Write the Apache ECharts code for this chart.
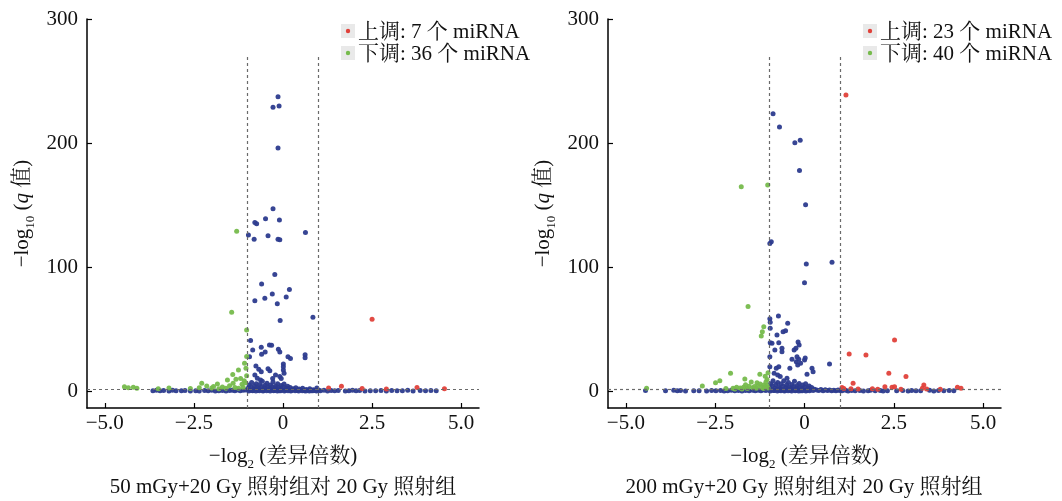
<!DOCTYPE html>
<html><head><meta charset="utf-8">
<script src="https://cdn.jsdelivr.net/npm/echarts@6/dist/echarts.min.js"></script>
<style>html,body{margin:0;padding:0;background:#fff}#c{width:1062px;height:501px}</style>
</head><body><div id="c"></div>
<script>
// ---------- DATA ----------
const xTicks = [-5, -2.5, 0, 2.5, 5];
const yTicks = [0, 100, 200, 300];
const panelTitles = ['50 mGy+20 Gy 照射组对 20 Gy 照射组', '200 mGy+20 Gy 照射组对 20 Gy 照射组'];
const legendUp = ['上调: 7 个 miRNA', '上调: 23 个 miRNA'];
const legendDown = ['下调: 36 个 miRNA', '下调: 40 个 miRNA'];
const foldCut = [-1, 1];
const qCut = 1.3;

const leftUp = [[1.64,4.0],[2.50,58.0],[3.76,3.0],[4.53,2.0],[2.22,2.2],[1.28,2.6],[2.90,1.9]];
const leftDown = [[-1.30,129],[-1.44,63.6],[-1.02,49.4],[-1.04,18.5],[-1.25,17.2],[-1.41,13.4],[-1.32,9.7],[-1.19,10.2],[-1.09,8.5],[-1.56,9.1],[-1.84,5.9],[-2.28,6.4],[-2.14,4.3],[-4.45,3.7],[-4.34,2.8],[-4.20,3.2],[-4.10,2.4],[-3.20,2.6],[-2.35,2.9],[-1.70,3.5],[-1.60,2.4],[-1.50,4.4],[-1.15,5.6],[-1.05,6.8],[-1.12,3.2],[-1.35,3.0],[-2.00,2.6],[-1.95,3.8],[-1.02,12.5],[-1.08,22.5],[-1.02,28],[-2.60,2.2],[-3.50,2.0],[-1.80,2.1],[-1.25,2.5],[-1.40,6.5]];
const leftNs = [[-0.14,237.3],[-0.28,228.8],[-0.11,229.8],[-0.14,196],[-0.28,147],[-0.49,139],[-0.10,138],[-0.79,136],[-0.74,135],[0.63,128],[-0.97,126],[-0.81,122.5],[-0.42,125.4],[-0.14,122.5],[-0.09,122],
[-0.23,94],[-0.60,86.4],[0.18,82],[-0.30,78.4],[-0.51,75],[0.09,76],[-0.79,73],[-0.16,70.6],[-0.08,57],[0.84,59.6],
[-0.91,40.8],[-0.85,33.3],[-0.61,35.4],[-0.38,37.3],[-0.32,37],[-0.50,31.7],[-0.60,29.8],[-0.13,33.8],[-0.09,31.7],[0.14,27.9],[0.21,26.3],[0.62,29.5],[0.62,27],[-0.94,27.9],[-0.76,20.4],[-0.68,17.7],[-0.61,15.8],[-0.42,18.2],[-0.37,16.6],[0.01,22],[0.01,19.8],[0.01,17.2],[0.03,14.5],[-0.21,13.1],[-0.09,11.8],[-0.79,13.1],[-0.72,10.5],[-0.29,10.2],[-0.05,10.2],[-0.63,9.1],
[-3.65,0.5],[-3.55,0.8],[-3.45,0.4],[-3.35,0.6],[-3.20,0.3],[-3.10,0.9],[-3.00,0.5],[-2.85,0.4],[-2.75,0.7],[-2.60,0.3],[-2.45,0.5],[-2.35,0.2],[-2.20,0.6],[-2.10,0.4],[-2.00,0.8],[-1.90,0.3],[-1.80,0.5],[-1.70,0.7],[-1.60,0.2],[-1.50,0.6],[-1.42,0.9],[-1.35,0.4],[-1.28,1.0],[-1.20,0.5],[-1.12,0.8],[-1.05,1.1],
[-0.98,2.5],[-0.95,5],[-0.92,1],[-0.90,3.5],[-0.88,7],[-0.85,0.5],[-0.82,2],[-0.80,4.5],[-0.78,1.5],[-0.75,6],[-0.72,3],[-0.70,0.8],[-0.68,2.2],[-0.65,5.5],[-0.62,1.2],[-0.60,3.8],[-0.58,8],[-0.55,0.6],[-0.52,2.8],[-0.50,4.8],[-0.48,1.6],[-0.45,6.5],[-0.42,3.2],[-0.40,0.9],[-0.38,2],[-0.35,5],[-0.32,1.4],[-0.30,3.6],[-0.28,7.5],[-0.25,0.7],[-0.22,2.6],[-0.20,4.2],[-0.18,1.1],[-0.15,6],[-0.12,3],[-0.10,0.5],[-0.08,2.2],[-0.05,4.6],[-0.02,1.3],[0.00,3.4],[0.03,5.8],[0.06,0.8],[0.10,2.4],[0.13,4],[0.16,1.5],[0.20,3],[0.24,0.6],[0.28,2],[0.32,1.2],[0.36,2.8],[0.40,0.7],[0.45,1.8],[0.50,1],[0.55,2.5],[0.60,0.5],[0.65,1.5],[0.70,0.8],[0.75,2],[0.80,0.4],[0.85,1.2],[0.90,0.6],[0.95,2.6],[1.00,0.9],
[-0.96,0.3],[-0.86,0.6],[-0.76,0.2],[-0.66,0.4],[-0.56,0.3],[-0.46,0.5],[-0.36,0.2],[-0.26,0.4],[-0.16,0.3],[-0.06,0.5],[0.04,0.2],[0.14,0.4],[0.22,0.3],[0.34,0.5],[0.44,0.2],[0.54,0.4],[0.64,0.3],[0.74,0.2],[0.84,0.5],[0.94,0.3],
[1.05,0.5],[1.15,0.8],[1.25,0.3],[1.35,0.6],[1.45,0.4],[1.55,0.7],[1.75,0.3],[1.85,0.5],[1.95,0.8],[2.05,0.4],[2.15,0.6],[2.30,0.3],[2.45,0.5],[2.60,0.4],[2.75,0.7],[2.90,0.3],[3.05,0.6],[3.20,0.4],[3.35,0.5],[3.50,0.8],[3.65,0.3],[3.85,0.6],[4.00,0.4],[4.15,0.7],[4.30,0.5]];

const rightUp = [[1.16,238.7],[1.25,30],[1.72,29.2],[2.52,41.3],[2.36,14.5],[2.84,11.8],[1.36,6.4],[3.34,5.1],[2.25,3.7],[2.45,3.2],[2.52,3.7],[4.28,3.2],[4.38,2.4],[1.10,2.2],[1.50,1.8],[1.90,2.0],[2.05,1.6],[3.30,2.5],[3.42,1.9],[1.05,3.0],[2.70,1.7],[3.80,1.6],[1.30,2.0]];
const rightDown = [[-1.77,164.8],[-1.03,166.2],[-1.58,68.2],[-1.14,52],[-1.21,44.5],[-1.18,48],[-2.07,14.5],[-2.37,8.5],[-2.49,6.9],[-2.86,4.3],[-1.67,9.9],[-1.25,13.7],[-1.49,7.5],[-1.33,6.9],[-1.24,5.9],[-1.14,5.1],[-4.42,2.4],[-1.05,9.5],[-1.10,12],[-1.02,15],[-1.90,3.2],[-1.80,2.6],[-1.70,3.5],[-1.60,2.2],[-1.55,4.0],[-1.45,2.8],[-1.40,3.8],[-1.35,2.4],[-1.30,4.4],[-1.20,3.0],[-1.15,2.2],[-1.10,3.6],[-1.05,4.6],[-1.02,2.6],[-2.00,2.4],[-2.20,2.2],[-1.95,1.9],[-1.75,1.8],[-1.65,5.2],[-1.08,7.5]];
const rightNs = [[-0.88,223.6],[-0.70,213],[-0.27,200.3],[-0.12,202.2],[-0.14,178],[0.03,150.3],[-0.93,120.5],[-0.97,119],[0.05,102.6],[0.77,104],[0.00,87.5],[-0.97,58.5],[-0.96,55.6],[-0.73,60.7],[-0.47,54.8],[-0.96,50.7],[-0.60,48],[-0.53,48.8],[-0.77,45.4],[-0.96,39],[-0.91,38.7],[-0.72,39],[-0.18,39.7],[-0.15,37.3],[-0.83,33.3],[-0.63,34.6],[-0.63,31.9],[-0.97,27.9],[-0.35,25.8],[-0.24,34.6],[-0.29,33.3],[-0.21,27.9],[-0.16,25.8],[-0.23,23.8],[-0.11,22.5],[-0.19,21.2],[0.00,25.2],[0.02,26.8],[0.21,18.5],[0.24,15.8],[0.07,13.7],[-0.79,18.5],[-0.72,19.8],[-0.97,19.8],[-0.41,18.5],[0.70,22],[-0.85,14.5],[-0.75,13.1],[-0.68,11.8],[-0.49,10.5],
[-4.45,0.6],[-3.89,0.5],[-3.66,0.8],[-3.56,0.4],[-3.47,0.6],[-3.33,0.3],[-3.10,0.5],[-2.95,0.4],[-2.74,0.3],[-2.60,0.6],[-2.48,0.4],[-2.35,0.7],[-2.25,0.3],[-2.15,0.5],[-2.05,0.8],[-1.95,0.4],[-1.85,0.6],[-1.75,0.3],[-1.65,0.7],[-1.55,0.5],[-1.45,0.9],[-1.38,0.4],[-1.30,0.8],[-1.22,0.5],[-1.15,1.0],[-1.08,0.6],
[-0.98,3],[-0.95,6],[-0.92,1.2],[-0.90,4.5],[-0.88,8.5],[-0.85,0.6],[-0.82,2.5],[-0.80,5.5],[-0.78,1.5],[-0.75,7],[-0.72,3.5],[-0.70,0.8],[-0.68,2.2],[-0.65,6],[-0.62,1.2],[-0.60,4],[-0.58,8.5],[-0.55,0.6],[-0.52,3],[-0.50,5.2],[-0.48,1.6],[-0.45,7],[-0.42,3.4],[-0.40,0.9],[-0.38,2.2],[-0.35,5.5],[-0.32,1.4],[-0.30,3.8],[-0.28,8],[-0.25,0.7],[-0.22,2.6],[-0.20,4.6],[-0.18,1.1],[-0.15,6.2],[-0.12,3],[-0.10,0.5],[-0.08,2.2],[-0.05,5],[-0.02,1.3],[0.00,3.4],[0.03,6],[0.06,0.8],[0.10,2.6],[0.13,4.2],[0.16,1.5],[0.20,3],[0.24,0.6],[0.28,1.6],[0.34,1.0],[0.40,0.7],[0.46,1.4],[0.52,0.5],[0.58,1.2],[0.64,0.6],[0.70,1.0],[0.76,0.4],[0.82,0.9],[0.88,0.5],[0.94,1.1],[0.99,0.6],
[-0.96,0.3],[-0.86,0.6],[-0.76,0.2],[-0.66,0.4],[-0.56,0.3],[-0.46,0.5],[-0.36,0.2],[-0.26,0.4],[-0.16,0.3],[-0.06,0.5],[0.04,0.2],[0.14,0.4],
[1.05,0.5],[1.15,0.8],[1.22,0.3],[1.32,0.6],[1.42,0.4],[1.55,0.7],[1.65,0.3],[1.78,0.5],[1.85,0.8],[1.98,0.4],[2.12,0.6],[2.20,0.3],[2.32,0.5],[2.58,0.4],[2.75,0.7],[2.90,0.3],[3.00,0.6],[3.12,0.4],[3.25,0.5],[3.50,0.8],[3.62,0.3],[3.75,0.6],[3.90,0.4],[4.05,0.7],[4.18,0.5]];

// ---------- STYLE ----------
const FONT = '"Liberation Serif", "Noto Serif CJK SC", "Noto Sans CJK SC", serif';
const FS = 21;
const BLUE = '#2c3b8e', RED = '#e0413a', GREEN = '#76bb4c';
const fmtX = v => v === 0 ? '0' : (v < 0 ? '\u2212' : '') + Math.abs(v).toFixed(1);

const grids = [
  {left: 87, top: 19, width: 392, height: 389},
  {left: 608, top: 19, width: 393, height: 389}
];

function xAxis(i) {
  return {
    gridIndex: i, type: 'value', min: -5.5, max: 5.5,
    axisLine: {show: true, onZero: false, lineStyle: {color: '#000', width: 1.5}},
    axisTick: {show: true, inside: true, length: 5, customValues: xTicks, lineStyle: {color: '#000', width: 1.2}},
    axisLabel: {customValues: xTicks, formatter: fmtX, fontFamily: FONT, fontSize: FS, color: '#111', margin: 5},
    splitLine: {show: false},
    name: '\u2212log{s|2} (差异倍数)', nameLocation: 'middle', nameGap: 33,
    nameTextStyle: {fontFamily: FONT, fontSize: FS, color: '#111',
      rich: {s: {fontFamily: FONT, fontSize: 13, color: '#111', verticalAlign: 'bottom', lineHeight: 30}}}
  };
}
function yAxis(i) {
  return {
    gridIndex: i, type: 'value', min: -13.5, max: 300,
    axisLine: {show: true, onZero: false, lineStyle: {color: '#000', width: 1.5}},
    axisTick: {show: true, inside: true, length: 5, customValues: yTicks, lineStyle: {color: '#000', width: 1.2}},
    axisLabel: {customValues: yTicks, fontFamily: FONT, fontSize: FS, color: '#111', margin: 9},
    splitLine: {show: false},
    name: '\u2212log{s|10} ({q|q} 值)', nameLocation: 'middle', nameGap: 50, nameRotate: 90,
    nameTextStyle: {fontFamily: FONT, fontSize: FS, color: '#111',
      rich: {s: {fontFamily: FONT, fontSize: 13, color: '#111', verticalAlign: 'bottom', lineHeight: 30},
             q: {fontFamily: FONT, fontSize: FS, color: '#111', fontStyle: 'italic'}}}
  };
}

function guideLines() {
  return {
    silent: true, symbol: 'none', label: {show: false},
    lineStyle: {color: '#6a6a6a', width: 1.2, type: [3, 3]},
    emphasis: {disabled: true},
    data: [
      [{coord: [foldCut[0], -13.5]}, {coord: [foldCut[0], 271]}],
      [{coord: [foldCut[1], -13.5]}, {coord: [foldCut[1], 271]}],
      [{coord: [-5.5, qCut]}, {coord: [5.5, qCut]}]
    ]
  };
}

function scatter(i, data, color, withLines) {
  const s = {
    type: 'scatter', xAxisIndex: i, yAxisIndex: i, data: data,
    symbolSize: 5, itemStyle: {color: color, opacity: 0.95}, silent: true, z: 3
  };
  if (withLines) s.markLine = guideLines();
  return s;
}

const panels = [[leftNs, leftDown, leftUp], [rightNs, rightDown, rightUp]];
const series = [];
panels.forEach((p, i) => {
  series.push(scatter(i, p[0], BLUE, true));
  series.push(scatter(i, p[1], GREEN, false));
  series.push(scatter(i, p[2], RED, false));
});

const graphic = [];
const legX = [341, 863];
legX.forEach((lx, i) => {
  [[legendUp[i], RED, 31], [legendDown[i], GREEN, 53]].forEach(([txt, col, cy]) => {
    graphic.push({type: 'rect', shape: {x: lx, y: cy - 7, width: 14, height: 14}, style: {fill: '#e9e9e9'}, silent: true});
    graphic.push({type: 'circle', shape: {cx: lx + 7, cy: cy, r: 2.2}, style: {fill: col}, silent: true});
    graphic.push({type: 'text', x: lx + 17, y: cy + 1, style: {text: txt, fontFamily: FONT, fontSize: FS, fill: '#111', verticalAlign: 'middle'}, silent: true});
  });
});
const subX = [283, 804];
subX.forEach((sx, i) => {
  graphic.push({type: 'text', x: sx, y: 487, style: {text: panelTitles[i], fontFamily: FONT, fontSize: FS, fill: '#111', align: 'center', verticalAlign: 'middle'}, silent: true});
});

const chart = echarts.init(document.getElementById('c'), null, {renderer: 'canvas'});
chart.setOption({
  animation: false,
  backgroundColor: '#fff',
  grid: grids,
  xAxis: [xAxis(0), xAxis(1)],
  yAxis: [yAxis(0), yAxis(1)],
  series: series,
  graphic: graphic
});
</script></body></html>
